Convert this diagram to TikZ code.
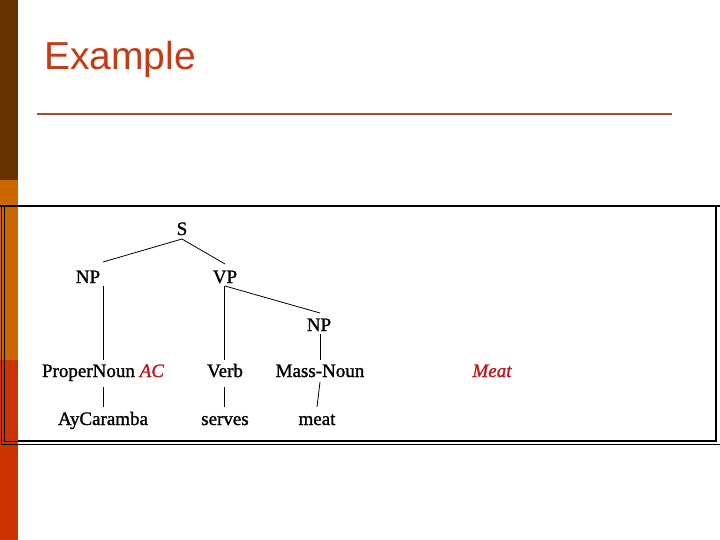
\documentclass[tikz,border=0pt]{standalone}
\usepackage{fontspec}
\setmainfont{Liberation Serif}
\newfontfamily\treefont[FakeBold=1.2]{Liberation Serif}
\newfontfamily\titlefont{Liberation Sans}
\usetikzlibrary{calc}
\definecolor{barbrown}{RGB}{102,51,0}
\definecolor{barorange}{RGB}{204,102,0}
\definecolor{barred}{RGB}{204,51,0}
\definecolor{titlecol}{RGB}{196,60,22}
\definecolor{rulecol}{RGB}{160,80,45}
\definecolor{semred}{RGB}{196,18,28}
\begin{document}
\begin{tikzpicture}[x=1pt,y=-1pt,
  lbl/.style={anchor=base,inner sep=0pt,font=\treefont\fontsize{19}{22}\selectfont},
  sem/.style={text=semred,font=\treefont\fontsize{19}{22}\selectfont\itshape},
  edge/.style={draw=black,line width=0.8pt}]
\useasboundingbox (0,0) rectangle (720,540);
\fill[white] (0,0) rectangle (720,540);
% side bar
\fill[barbrown] (0,0) rectangle (18,180);
\fill[barorange] (0,180) rectangle (18,360);
\fill[barred] (0,360) rectangle (18,540);
% title
\node[anchor=base west,inner sep=0pt,text=titlecol,font=\titlefont\fontsize{39}{44}\selectfont] (title) at (44,70) {Example};
\draw[rulecol,line width=2pt] (37,114) -- (672,114);
% frame
\draw[line width=0.7pt] (1,206) -- (1,444) -- (720,444);
\draw[line width=0.7pt] (4,206) -- (4,441) -- (18,441);
\draw[line width=2.2pt] (18,441) -- (716,441) -- (716,206);
\draw[line width=2.2pt] (0,206) -- (720,206);
% tree nodes
\node[lbl] (s) at (182,235) {S};
\node[lbl] (np1) at (88,283) {NP};
\node[lbl] (vp) at (225,283) {VP};
\node[lbl] (np2) at (319,331) {NP};
\node[lbl] (pn) at (103,377) {ProperNoun {\itshape\color{semred}AC}};
\node[lbl] (verb) at (225,377) {Verb};
\node[lbl] (mn) at (320,377) {Mass-Noun};
\node[lbl,sem] (meatsem) at (492,377) {Meat};
\node[lbl] (ay) at (103,425) {AyCaramba};
\node[lbl] (serves) at (225,425) {serves};
\node[lbl] (meat) at (317,425) {meat};
% connectors
\draw[edge] ($(s.base)+(0,4)$) -- ($(pn.base |- np1.base)+(0,-21)$);
\draw[edge] ($(s.base)+(0,4)$) -- ($(vp.base)+(0,-19)$);
\draw[edge] ($(vp.base)+(0,3)$) -- ($(np2.base)+(1,-18)$);
\draw[edge] ($(pn.base |- np1.base)+(0,3)$) -- ($(pn.base)+(0,-17)$);
\draw[edge] ($(pn.base)+(0,10)$) -- ($(ay.base)+(0,-18)$);
\draw[edge] ($(vp.base)+(-1,3)$) -- ($(verb.base)+(-1,-17)$);
\draw[edge] ($(verb.base)+(-1,10)$) -- ($(serves.base)+(-1,-18)$);
\draw[edge] ($(np2.base)+(1,3)$) -- ($(mn.base)+(0,-17)$);
\draw[edge] ($(mn.base)+(0,5)$) -- ($(meat.base)+(0,-18)$);
\end{tikzpicture}
\end{document}
